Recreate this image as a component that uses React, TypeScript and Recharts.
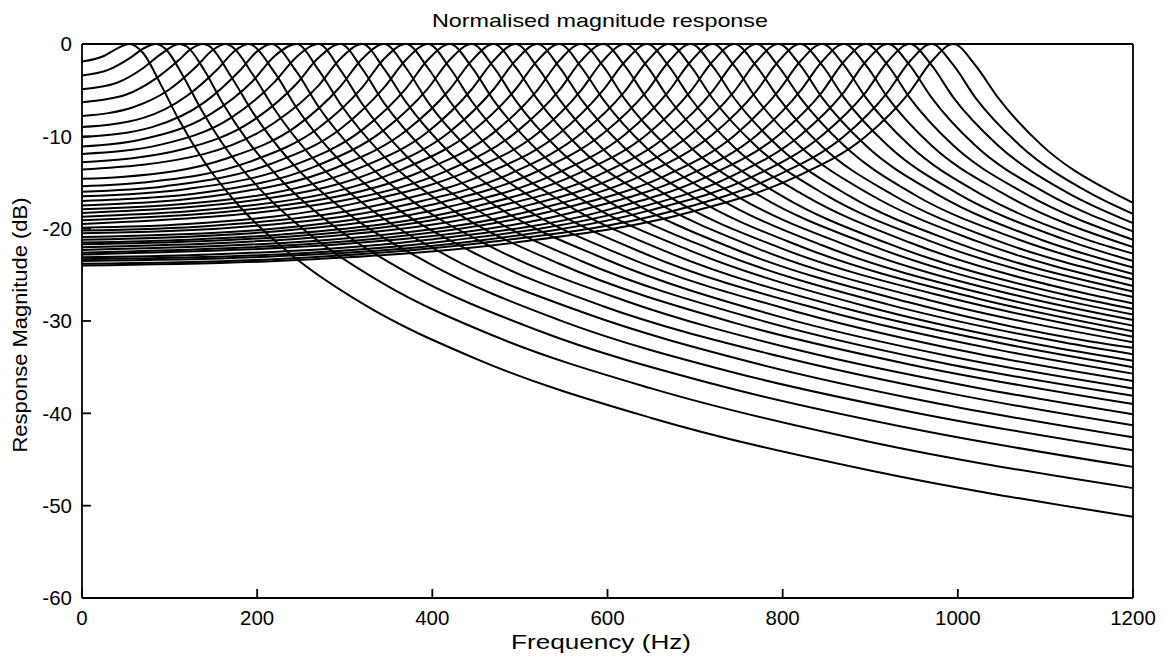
import { LineChart, Line, XAxis, YAxis, Label } from 'recharts';

// ═══════════════════════════════════════════════════════════════════════════
// DATA
// one row per resonator: sample frequencies (Hz) and level (dB re. its peak)
// ═══════════════════════════════════════════════════════════════════════════

const PEAK_HZ = [
    54, 84, 111, 138, 164, 190, 216, 245, 270, 295, 320, 345, 370, 395, 420, 445, 470, 495, 520,
    545, 570, 595, 620, 645, 670, 695, 720, 745, 770, 795, 820, 845, 870, 895, 920, 945, 970, 995,
];

const FREQ_HZ: number[][] = [
    [0, 25, 40, 54, 70, 90, 110, 140, 180, 240, 320, 450, 650, 900, 1200],
    [0, 30, 55, 70, 84, 95, 115, 135, 165, 205, 265, 345, 470, 650, 900, 1200],
    [0, 40, 70, 90, 111, 120, 140, 160, 190, 230, 290, 370, 520, 720, 950, 1200],
    [0, 50, 85, 110, 125, 138, 145, 170, 195, 235, 295, 395, 545, 745, 950, 1200],
    [0, 60, 100, 130, 150, 164, 170, 195, 220, 260, 320, 420, 570, 770, 970, 1200],
    [0, 70, 120, 155, 175, 190, 220, 245, 285, 345, 445, 595, 795, 1000, 1200],
    [0, 80, 140, 180, 200, 216, 245, 270, 310, 370, 470, 620, 820, 1020, 1200],
    [0, 65, 145, 195, 220, 245, 270, 295, 345, 425, 545, 745, 945, 1200],
    [0, 90, 170, 220, 245, 270, 295, 320, 370, 450, 570, 770, 970, 1200],
    [0, 115, 195, 245, 270, 295, 320, 345, 395, 475, 595, 795, 995, 1200],
    [0, 140, 220, 270, 295, 320, 345, 370, 420, 500, 620, 820, 1020, 1200],
    [0, 45, 165, 245, 295, 320, 345, 370, 395, 445, 525, 645, 845, 1045, 1200],
    [0, 70, 190, 270, 320, 345, 370, 395, 420, 470, 550, 670, 870, 1070, 1200],
    [0, 95, 215, 295, 345, 370, 395, 420, 445, 495, 575, 695, 895, 1095, 1200],
    [0, 120, 240, 320, 370, 395, 420, 445, 470, 520, 600, 720, 920, 1120, 1200],
    [0, 145, 265, 345, 395, 420, 445, 470, 495, 545, 625, 745, 945, 1145, 1200],
    [0, 170, 290, 370, 420, 445, 470, 495, 520, 570, 650, 770, 970, 1200],
    [0, 195, 315, 395, 445, 470, 495, 520, 545, 595, 675, 795, 995, 1200],
    [0, 220, 340, 420, 470, 495, 520, 545, 570, 620, 700, 820, 1020, 1200],
    [0, 245, 365, 445, 495, 520, 545, 570, 595, 645, 725, 845, 1045, 1200],
    [0, 270, 390, 470, 520, 545, 570, 595, 620, 670, 750, 870, 1070, 1200],
    [0, 295, 415, 495, 545, 570, 595, 620, 645, 695, 775, 895, 1095, 1200],
    [0, 120, 320, 440, 520, 570, 595, 620, 645, 670, 720, 800, 920, 1120, 1200],
    [0, 145, 345, 465, 545, 595, 620, 645, 670, 695, 745, 825, 945, 1145, 1200],
    [0, 170, 370, 490, 570, 620, 645, 670, 695, 720, 770, 850, 970, 1200],
    [0, 195, 395, 515, 595, 645, 670, 695, 720, 745, 795, 875, 995, 1200],
    [0, 220, 420, 540, 620, 670, 695, 720, 745, 770, 820, 900, 1020, 1200],
    [0, 245, 445, 565, 645, 695, 720, 745, 770, 795, 845, 925, 1045, 1200],
    [0, 270, 470, 590, 670, 720, 745, 770, 795, 820, 870, 950, 1070, 1200],
    [0, 295, 495, 615, 695, 745, 770, 795, 820, 845, 895, 975, 1095, 1200],
    [0, 320, 520, 640, 720, 770, 795, 820, 845, 870, 920, 1000, 1120, 1200],
    [0, 345, 545, 665, 745, 795, 820, 845, 870, 895, 945, 1025, 1145, 1200],
    [0, 370, 570, 690, 770, 820, 845, 870, 895, 920, 970, 1050, 1200],
    [0, 145, 395, 595, 715, 795, 845, 870, 895, 920, 945, 995, 1075, 1200],
    [0, 170, 420, 620, 740, 820, 870, 895, 920, 945, 970, 1020, 1100, 1200],
    [0, 195, 445, 645, 765, 845, 895, 920, 945, 970, 995, 1045, 1125, 1200],
    [0, 220, 470, 670, 790, 870, 920, 945, 970, 995, 1020, 1070, 1150, 1200],
    [0, 245, 495, 695, 815, 895, 945, 970, 995, 1020, 1045, 1095, 1175, 1200],
];

const LEVEL_DB: number[][] = [
    [-1.9, -1.3, -0.5, 0, -1.0, -4.4, -8.1, -12.8, -17.6, -22.9, -28.1, -34.1, -40.5, -46.2, -51.2],
    [-3.4, -2.8, -1.5, -0.5, 0, -0.5, -3.4, -6.9, -11.4, -15.9, -21.0, -26.0, -31.6, -37.3, -43.1, -48.1],
    [-4.9, -4.2, -2.6, -1.1, 0, -0.3, -2.9, -6.3, -10.6, -15.0, -19.9, -24.7, -31.0, -36.8, -41.7, -45.8],
    [-6.3, -5.5, -3.7, -1.8, -0.5, 0, -0.2, -3.5, -7.4, -12.4, -17.7, -23.7, -29.9, -35.6, -39.9, -44.0],
    [-7.8, -6.8, -4.9, -2.5, -0.6, 0, -0.2, -3.3, -7.1, -12.0, -17.2, -23.1, -29.0, -34.6, -38.8, -42.6],
    [-9.0, -8.0, -5.6, -2.7, -0.7, 0, -3.1, -6.9, -11.7, -16.8, -22.5, -28.4, -33.8, -38.0, -41.3],
    [-10.1, -9.0, -6.3, -2.9, -0.8, 0, -3.0, -6.8, -11.5, -16.5, -22.1, -27.8, -33.2, -37.2, -40.1],
    [-11.1, -10.4, -7.7, -4.0, -1.3, 0, -2.8, -6.5, -12.2, -18.1, -23.8, -30.2, -34.7, -39.0],
    [-11.9, -10.9, -8.0, -4.1, -1.4, 0, -2.8, -6.5, -12.1, -17.9, -23.5, -29.8, -34.3, -38.1],
    [-12.8, -11.4, -8.3, -4.3, -1.5, 0, -2.7, -6.4, -11.9, -17.7, -23.2, -29.5, -33.9, -37.3],
    [-13.6, -11.9, -8.5, -4.5, -1.6, 0, -2.7, -6.3, -11.8, -17.5, -23.0, -29.1, -33.5, -36.5],
    [-14.6, -14.4, -12.4, -8.9, -4.6, -1.6, 0, -2.6, -6.3, -11.7, -17.3, -22.8, -28.8, -33.1, -35.7],
    [-15.4, -15.0, -12.8, -9.1, -4.7, -1.6, 0, -2.6, -6.2, -11.7, -17.2, -22.6, -28.6, -32.8, -35.0],
    [-16.0, -15.4, -13.0, -9.2, -4.7, -1.7, 0, -2.6, -6.2, -11.6, -17.1, -22.4, -28.4, -32.6, -34.3],
    [-16.5, -15.7, -13.2, -9.3, -4.8, -1.7, 0, -2.5, -6.1, -11.5, -17.0, -22.3, -28.2, -32.3, -33.6],
    [-17.0, -16.0, -13.3, -9.3, -4.8, -1.7, 0, -2.5, -6.1, -11.5, -16.9, -22.2, -28.0, -32.1, -32.9],
    [-17.5, -16.2, -13.4, -9.4, -4.9, -1.8, 0, -2.5, -6.0, -11.4, -16.8, -22.1, -27.8, -32.3],
    [-17.9, -16.5, -13.5, -9.5, -4.9, -1.8, 0, -2.5, -6.0, -11.4, -16.8, -22.0, -27.6, -31.7],
    [-18.3, -16.6, -13.6, -9.5, -4.9, -1.8, 0, -2.5, -6.0, -11.3, -16.7, -21.9, -27.5, -31.1],
    [-18.7, -16.8, -13.6, -9.5, -4.9, -1.8, 0, -2.5, -6.0, -11.3, -16.6, -21.8, -27.4, -30.5],
    [-19.1, -16.9, -13.7, -9.6, -5.0, -1.8, 0, -2.4, -6.0, -11.3, -16.6, -21.7, -27.3, -29.9],
    [-19.5, -17.0, -13.8, -9.6, -5.0, -1.8, 0, -2.4, -5.9, -11.2, -16.5, -21.6, -27.2, -29.3],
    [-19.9, -19.5, -17.1, -13.8, -9.7, -5.0, -1.8, 0, -2.4, -5.9, -11.2, -16.5, -21.6, -27.1, -28.7],
    [-20.2, -19.7, -17.3, -13.9, -9.7, -5.0, -1.9, 0, -2.4, -5.9, -11.2, -16.4, -21.5, -27.0, -28.1],
    [-20.5, -19.9, -17.4, -14.0, -9.7, -5.1, -1.9, 0, -2.4, -5.9, -11.1, -16.4, -21.4, -27.4],
    [-20.9, -20.2, -17.5, -14.0, -9.7, -5.1, -1.9, 0, -2.4, -5.9, -11.1, -16.4, -21.4, -26.8],
    [-21.2, -20.3, -17.6, -14.1, -9.8, -5.1, -1.9, 0, -2.4, -5.9, -11.1, -16.3, -21.3, -26.2],
    [-21.5, -20.5, -17.7, -14.1, -9.8, -5.1, -1.9, 0, -2.4, -5.8, -11.1, -16.3, -21.3, -25.5],
    [-21.7, -20.6, -17.7, -14.2, -9.8, -5.1, -1.9, 0, -2.4, -5.8, -11.0, -16.3, -21.2, -24.9],
    [-22.0, -20.7, -17.8, -14.2, -9.8, -5.1, -1.9, 0, -2.3, -5.8, -11.0, -16.2, -21.2, -24.2],
    [-22.3, -20.9, -17.9, -14.2, -9.8, -5.1, -1.9, 0, -2.3, -5.8, -11.0, -16.2, -21.1, -23.5],
    [-22.6, -21.0, -17.9, -14.3, -9.9, -5.1, -1.9, 0, -2.3, -5.8, -11.0, -16.2, -21.1, -22.7],
    [-22.8, -21.1, -18.0, -14.3, -9.9, -5.1, -1.9, 0, -2.3, -5.8, -11.0, -16.1, -22.0],
    [-23.1, -22.8, -21.2, -18.1, -14.3, -9.9, -5.2, -1.9, 0, -2.3, -5.8, -11.0, -16.1, -21.2],
    [-23.3, -23.0, -21.3, -18.1, -14.4, -9.9, -5.2, -1.9, 0, -2.3, -5.8, -11.0, -16.1, -20.3],
    [-23.5, -23.1, -21.4, -18.1, -14.4, -9.9, -5.2, -1.9, 0, -2.3, -5.8, -10.9, -16.1, -19.4],
    [-23.8, -23.3, -21.4, -18.2, -14.4, -10.0, -5.2, -1.9, 0, -2.3, -5.8, -10.9, -16.1, -18.4],
    [-24.0, -23.4, -21.5, -18.2, -14.4, -10.0, -5.2, -1.9, 0, -2.3, -5.7, -10.9, -16.0, -17.2],
];

const X_TICKS = [0, 200, 400, 600, 800, 1000, 1200];
const Y_TICKS = [-60, -50, -40, -30, -20, -10, 0];

const TITLE = 'Normalised magnitude response';
const X_LABEL = 'Frequency (Hz)';
const Y_LABEL = 'Response Magnitude (dB)';

// ═══════════════════════════════════════════════════════════════════════════
// LAYOUT
// ═══════════════════════════════════════════════════════════════════════════

const FONT = '"Liberation Sans", Arial, Helvetica, sans-serif';
const W = 1153;
const H = 650;
const MARGIN = { top: 41, right: 28, bottom: 15, left: 14 };
const Y_AXIS_W = 60;
const X_AXIS_H = 40;
const PLOT_TOP = MARGIN.top + 1;
const PLOT_LEFT = MARGIN.left + Y_AXIS_W;
const PLOT_W = W - PLOT_LEFT - MARGIN.right - 1;
const PLOT_BOTTOM = H - MARGIN.bottom - X_AXIS_H;

const INK = '#000';
const frame = { stroke: INK, strokeWidth: 1.8 };

const series = FREQ_HZ.map((fs, i) => fs.map((f, j) => ({ f, db: LEVEL_DB[i][j] })));

const renderTitle = () => (
    <text
        x={PLOT_LEFT + PLOT_W / 2 - 7}
        y={PLOT_TOP - 18}
        textAnchor="middle"
        fontFamily={FONT}
        fontSize={19}
        textLength={336}
        lengthAdjust="spacingAndGlyphs"
        fill={INK}
    >
        {TITLE}
    </text>
);

const renderXLabel = () => (
    <text
        x={PLOT_LEFT + PLOT_W / 2 - 6}
        y={PLOT_BOTTOM + 51}
        textAnchor="middle"
        fontFamily={FONT}
        fontSize={20}
        textLength={180}
        lengthAdjust="spacingAndGlyphs"
        fill={INK}
    >
        {X_LABEL}
    </text>
);

const renderYLabel = () => {
    const x = 19;
    const y = PLOT_TOP + 280;
    return (
        <text
            x={x}
            y={y}
            transform={`rotate(-90 ${x} ${y})`}
            textAnchor="middle"
            fontFamily={FONT}
            fontSize={20.5}
            textLength={255}
            lengthAdjust="spacingAndGlyphs"
            fill={INK}
        >
            {Y_LABEL}
        </text>
    );
};

// ═══════════════════════════════════════════════════════════════════════════
// CHART
// ═══════════════════════════════════════════════════════════════════════════

export default function App() {
    return (
        <div style={{ width: W, height: H, marginTop: -5, background: '#fff' }}>
            <LineChart width={W} height={H} margin={MARGIN}>
                {/* box ticks on top / right, pointing inwards */}
                <XAxis
                    xAxisId="top"
                    orientation="top"
                    mirror
                    type="number"
                    domain={[0, 1200]}
                    ticks={X_TICKS}
                    interval={0}
                    height={1}
                    tick={false}
                    tickSize={9}
                    axisLine={frame}
                    tickLine={frame}
                >
                    <Label content={renderTitle} />
                </XAxis>
                <YAxis
                    yAxisId="right"
                    orientation="right"
                    mirror
                    type="number"
                    domain={[-60, 0]}
                    ticks={Y_TICKS}
                    interval={0}
                    width={1}
                    tick={false}
                    tickSize={9}
                    axisLine={frame}
                    tickLine={frame}
                />

                <XAxis
                    xAxisId="f"
                    type="number"
                    dataKey="f"
                    domain={[0, 1200]}
                    ticks={X_TICKS}
                    interval={0}
                    height={X_AXIS_H}
                    tickSize={-9}
                    tickMargin={21}
                    axisLine={frame}
                    tickLine={frame}
                    tick={{ fill: INK, fontSize: 20.5, fontFamily: FONT }}
                >
                    <Label content={renderXLabel} />
                </XAxis>
                <YAxis
                    yAxisId="db"
                    type="number"
                    domain={[-60, 0]}
                    ticks={Y_TICKS}
                    interval={0}
                    width={Y_AXIS_W}
                    tickSize={-9}
                    tickMargin={19}
                    axisLine={frame}
                    tickLine={frame}
                    tick={{ fill: INK, fontSize: 20.5, fontFamily: FONT }}
                >
                    <Label content={renderYLabel} />
                </YAxis>

                {series.map((pts, i) => (
                    <Line
                        key={PEAK_HZ[i]}
                        xAxisId="f"
                        yAxisId="db"
                        data={pts}
                        dataKey="db"
                        type="monotone"
                        stroke={INK}
                        strokeWidth={2}
                        dot={false}
                        activeDot={false}
                        isAnimationActive={false}
                    />
                ))}
            </LineChart>
        </div>
    );
}
